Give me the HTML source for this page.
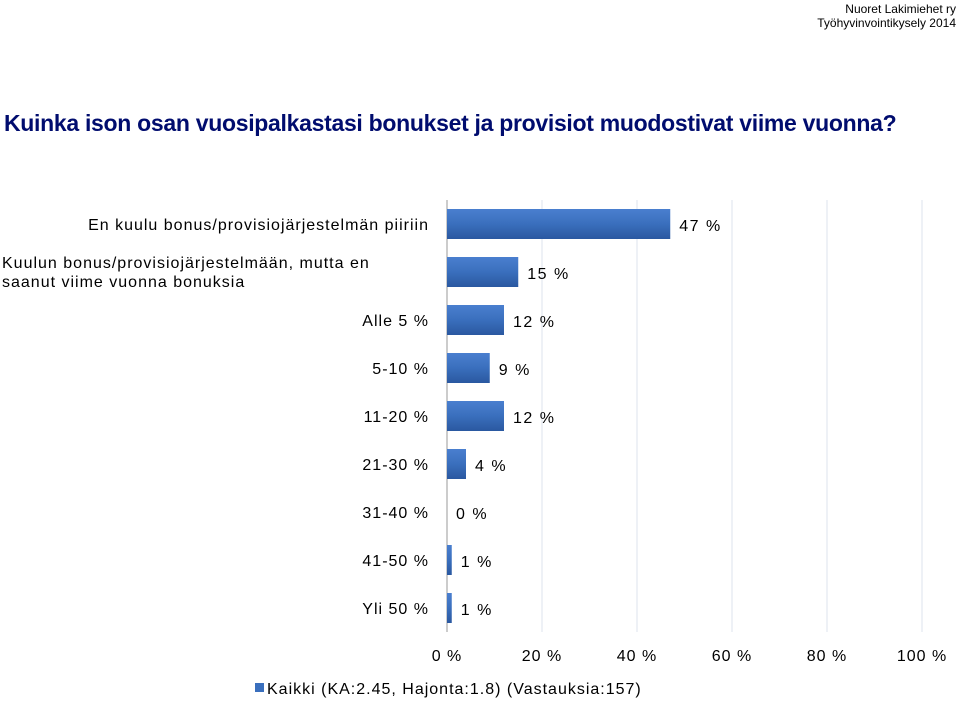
<!DOCTYPE html>
<html><head><meta charset="utf-8"><style>
body{margin:0;width:960px;height:701px;background:#fff;overflow:hidden;font-family:"Liberation Sans",sans-serif;}
.hdr{position:absolute;right:4px;top:2px;text-align:right;font-size:12px;line-height:14px;color:#000;}
.title{position:absolute;left:4px;top:110px;font-size:23px;font-weight:bold;color:#000c6e;white-space:nowrap;letter-spacing:-0.3px;}
</style></head><body>
<div class="hdr">Nuoret Lakimiehet ry<br>Työhyvinvointikysely 2014</div>
<div class="title">Kuinka ison osan vuosipalkastasi bonukset ja provisiot muodostivat viime vuonna?</div>
<svg id="chart" width="960" height="701" style="position:absolute;left:0;top:0">
<defs><linearGradient id="g" x1="0" y1="0" x2="0" y2="1">
<stop offset="0" stop-color="#4a7fcf"/><stop offset="0.5" stop-color="#3a6fbd"/><stop offset="1" stop-color="#2a58a0"/></linearGradient></defs>
</svg>
<script>
const categories=["En kuulu bonus/provisiojärjestelmän piiriin","Kuulun bonus/provisiojärjestelmään, mutta en|saanut viime vuonna bonuksia","Alle 5 %","5-10 %","11-20 %","21-30 %","31-40 %","41-50 %","Yli 50 %"];
const values=[47,15,12,9,12,4,0,1,1];
const ticks=[0,20,40,60,80,100];
const svg=document.getElementById('chart');
const NS="http://www.w3.org/2000/svg";
const x0=447,x1=922,plotTop=200,step=48,bh=30;
const xs=v=>x0+(x1-x0)*v/100;
const yc=i=>plotTop+24+i*step;
function mk(t,a){const e=document.createElementNS(NS,t);for(const k in a)e.setAttribute(k,a[k]);svg.appendChild(e);return e;}
ticks.forEach(t=>{
 if(t>0){const l=mk('line',{x1:xs(t),x2:xs(t),y1:plotTop,y2:plotTop+categories.length*step,stroke:'#dde3ec','stroke-width':1});
 
 }
 const tx=mk('text',{x:xs(t),y:661,'text-anchor':'middle','font-size':16,fill:'#000','letter-spacing':'1'});
 tx.textContent=t+' %';
 
 
});
const ax=mk('line',{x1:x0,x2:x0,y1:plotTop,y2:plotTop+categories.length*step,stroke:'#999','stroke-width':1});


categories.forEach((c,i)=>{
 const y=yc(i);
 const parts=c.split('|');
 if(parts.length>1){
  parts.forEach((p,j)=>{const t=mk('text',{x:2,y:y-4+j*19,'font-size':16,fill:'#000','letter-spacing':'1'});t.textContent=p;
  
  });
 }else{
  const t=mk('text',{x:429,y:y+6,'text-anchor':'end','font-size':16,fill:'#000','letter-spacing':'1'});t.textContent=c;
  
  
 }
 const v=values[i];
 if(v>0){const r=mk('rect',{x:x0,y:y-bh/2,width:xs(v)-x0,height:bh,fill:'url(#g)'});
 
 }
 const vl=mk('text',{x:xs(v)+9,y:y+7,'font-size':16,fill:'#000','letter-spacing':'1.5'});
 vl.textContent=v+' %';
 
 
});
const lg=mk('rect',{x:255,y:683,width:9,height:9,fill:'#3a6fbd'});


const lt=mk('text',{x:267,y:694,'font-size':16,fill:'#000','letter-spacing':'1'});
lt.textContent='Kaikki (KA:2.45, Hajonta:1.8) (Vastauksia:157)';


</script>
</body></html>
